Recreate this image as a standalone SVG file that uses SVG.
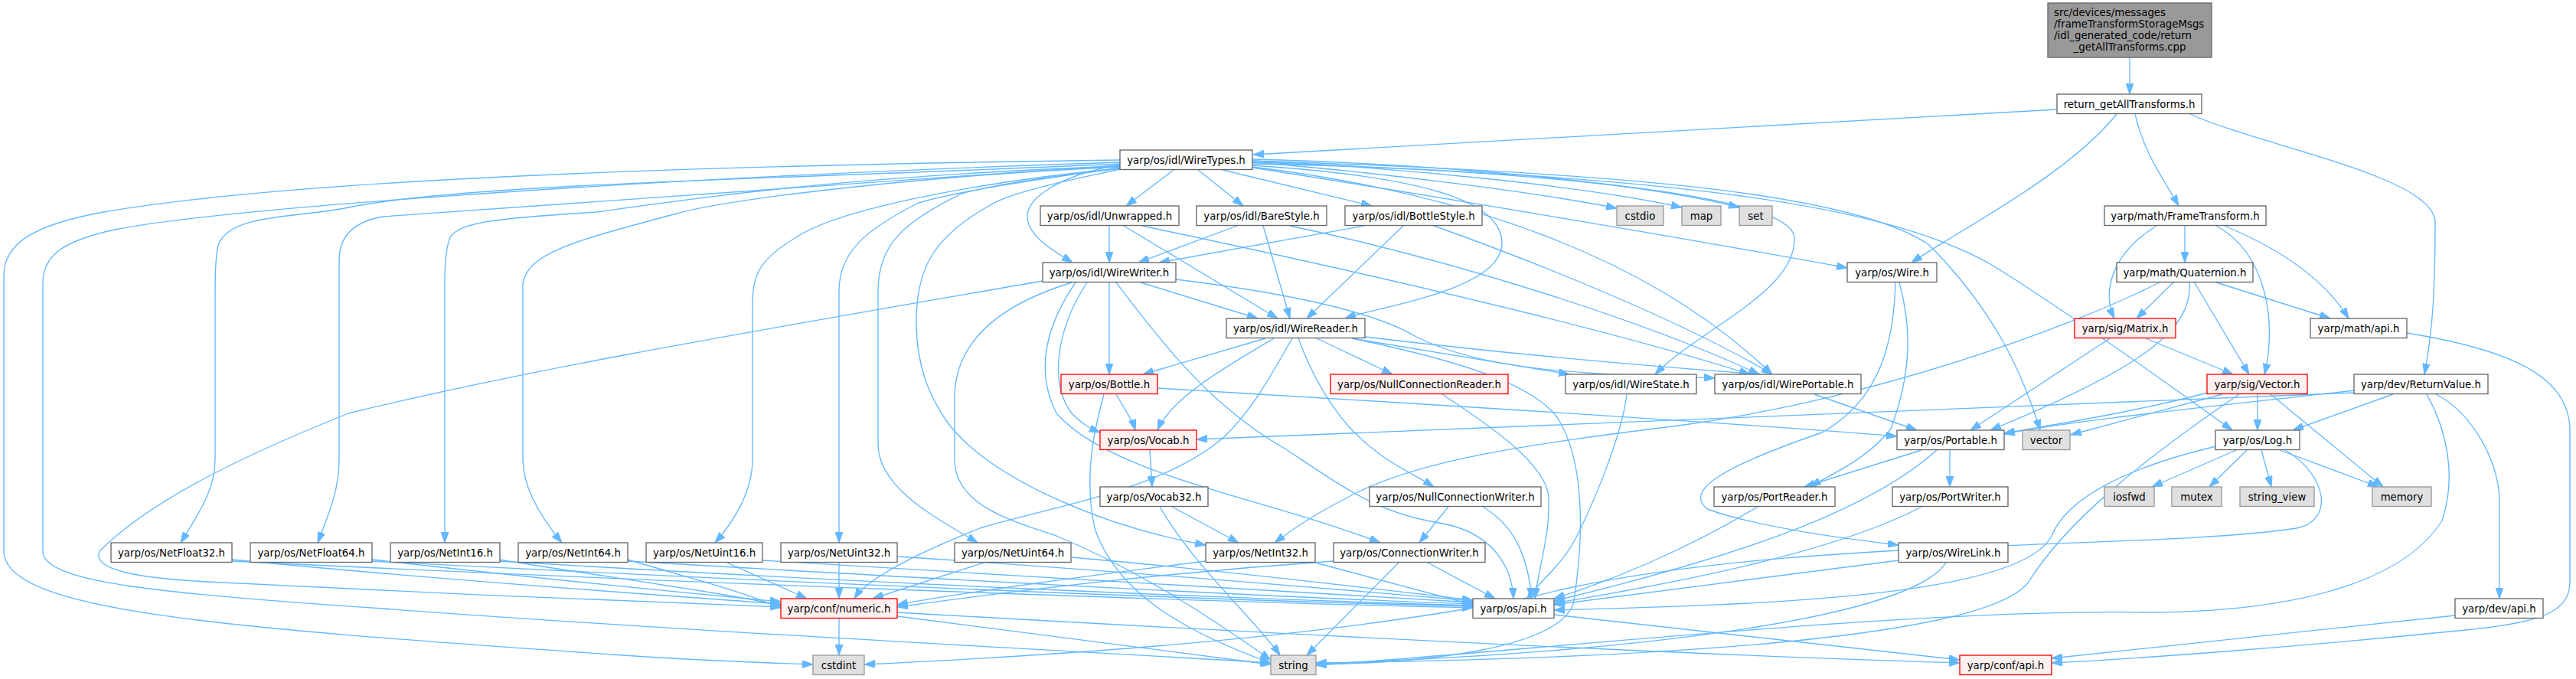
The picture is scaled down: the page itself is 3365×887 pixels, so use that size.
<svg xmlns="http://www.w3.org/2000/svg" width="3365" height="887" viewBox="0 0 3365 887">
<style>
.n rect{fill:#ffffff;stroke:#666666;stroke-width:1.33}
.g rect{fill:#e0e0e0;stroke:#999999;stroke-width:1.33}
.r rect{fill:#fff0f0;stroke:#ff0000;stroke-width:1.33}
.t rect{fill:#999999;stroke:#666666;stroke-width:1.33}
text{font-family:"DejaVu Sans","Liberation Sans",sans-serif;font-size:13.33px;fill:#000000;text-anchor:middle}
#edges path{fill:none;stroke:#63b8ff;stroke-width:1.33;marker-end:url(#ah)}
</style>
<defs>
<marker id="ah" markerUnits="userSpaceOnUse" markerWidth="14" markerHeight="10" viewBox="0 0 13 9" refX="13" refY="4.5" orient="auto">
<path d="M0,0 L13,4.5 L0,9 Z" fill="#63b8ff" stroke="#63b8ff"/>
</marker>
</defs>
<rect x="0" y="0" width="3365" height="887" fill="#ffffff"/>
<g id="edges">
<path d="M2782,75 L2782,123"/>
<path d="M2687,143 L1637,202"/>
<path d="M2765,149 C2700,230 2560,300 2497,343"/>
<path d="M2789,149 C2800,200 2830,240 2846,269"/>
<path d="M2861,149 C2950,190 3180,230 3181,290 C3181,380 3178,430 3167,489"/>
<path d="M1533,222 L1471,269"/>
<path d="M1565,222 L1624,269"/>
<path d="M1597,222 L1792,269"/>
<path d="M1636,212 C1800,225 2000,250 2112,272"/>
<path d="M1636,210 C1850,220 2080,245 2197,271"/>
<path d="M1636,208 C1900,215 2150,240 2272,271"/>
<path d="M1463,215 C1380,230 1340,260 1342,285 C1344,310 1380,330 1401,343"/>
<path d="M1636,216 C1850,230 1965,260 1962,320 C1958,380 1800,400 1757,416"/>
<path d="M1636,214 C1950,220 2340,250 2344,310 C2348,380 2220,430 2162,489"/>
<path d="M1636,218 C1900,250 2150,330 2315,489"/>
<path d="M1636,219 C1900,260 2250,320 2413,350"/>
<path d="M1636,210 C2100,225 2420,250 2520,320 C2600,400 2640,480 2665,562"/>
<path d="M1636,212 C2150,230 2450,260 2600,345 C2690,400 2830,500 2916,562"/>
<path d="M1463,209 C1000,215 400,230 130,278 C40,295 5,320 5,360 L5,720 C5,800 300,820 800,855 C900,862 1000,866 1062,868"/>
<path d="M1463,212 C900,230 300,270 150,300 C80,315 56,335 56,370 L56,720 C56,760 200,775 500,795 C900,825 1400,850 1660,866"/>
<path d="M1463,214 C1000,235 600,240 450,272 C380,285 300,280 285,320 C281,340 281,360 281,400 L281,600 C281,640 260,670 236,709"/>
<path d="M1463,216 C1100,240 700,270 500,283 C460,290 443,310 443,340 L443,600 C443,640 430,670 415,709"/>
<path d="M1463,217 C1100,230 900,260 780,277 C650,285 600,290 588,310 C582,325 581,345 581,370 L581,709"/>
<path d="M1463,218 C1200,230 950,260 880,280 C750,315 690,330 683,370 L683,600 C683,640 710,680 734,709"/>
<path d="M1463,220 C1300,235 1100,270 1040,310 C990,340 983,360 983,400 L983,600 C983,640 960,680 934,709"/>
<path d="M1463,219 C1350,235 1250,250 1200,265 C1130,300 1096,330 1096,380 L1096,709"/>
<path d="M1463,220 C1380,230 1300,240 1256,253 C1180,290 1147,320 1147,380 L1147,580 C1147,640 1230,680 1277,709"/>
<path d="M1463,221 C1400,235 1320,250 1290,270 C1220,310 1197,350 1197,420 C1197,480 1215,520 1240,555 C1300,630 1450,690 1575,712"/>
<path d="M1449,295 L1449,343"/>
<path d="M1468,295 L1669,416"/>
<path d="M1492,295 C1800,360 2100,430 2286,489"/>
<path d="M1616,295 L1487,343"/>
<path d="M1650,295 L1685,416"/>
<path d="M1685,295 C1900,340 2150,420 2298,489"/>
<path d="M1782,295 L1514,343"/>
<path d="M1833,295 L1707,416"/>
<path d="M1873,295 C2000,340 2200,420 2315,489"/>
<path d="M1449,369 L1449,489"/>
<path d="M1490,369 L1643,416"/>
<path d="M1536,365 C1700,385 1800,410 1850,440 C1950,490 2100,488 2240,494"/>
<path d="M1405,369 C1370,420 1350,480 1380,540 C1450,620 1650,650 1803,709"/>
<path d="M1420,369 C1380,430 1370,500 1400,540 C1415,555 1425,560 1437,565"/>
<path d="M1458,369 C1520,450 1580,530 1680,587 C1760,640 1800,670 1880,683 C1950,695 1975,740 1977,782"/>
<path d="M1400,369 C1300,400 1247,450 1247,520 L1247,600 C1247,660 1320,680 1380,700 C1500,750 1600,820 1660,862"/>
<path d="M1362,367 C1000,430 700,480 455,540 C330,590 200,650 130,720 C120,745 180,755 270,760 C500,772 800,785 1020,793"/>
<path d="M1653,442 L1493,489"/>
<path d="M1664,442 C1600,480 1530,520 1512,562"/>
<path d="M1688,442 C1660,490 1640,530 1600,570 C1520,640 1380,660 1280,690 C1180,730 1130,760 1116,782"/>
<path d="M1696,442 C1710,480 1730,520 1760,555 C1800,600 1840,615 1873,636"/>
<path d="M1720,442 L1819,489"/>
<path d="M1766,442 L2050,489"/>
<path d="M1783,440 C1950,460 2150,478 2300,489"/>
<path d="M1766,442 C1900,470 2000,500 2034,545 C2070,600 2070,700 2055,790 C2030,850 1850,866 1719,868"/>
<path d="M1458,515 C1466,530 1478,545 1483,562"/>
<path d="M1512,507 C1900,530 2300,555 2478,570"/>
<path d="M1442,515 C1430,560 1415,620 1430,690 C1460,780 1560,830 1660,866"/>
<path d="M1502,588 L1505,636"/>
<path d="M1531,662 L1618,709"/>
<path d="M1515,662 C1560,740 1640,810 1672,856"/>
<path d="M1575,733 C1400,755 1250,775 1172,790"/>
<path d="M1718,735 L1924,790"/>
<path d="M303,731 C600,760 900,780 1020,789"/>
<path d="M303,733 C900,762 1600,787 1924,794"/>
<path d="M486,731 C700,755 900,775 1020,786"/>
<path d="M486,733 C1000,760 1600,785 1924,792"/>
<path d="M652,731 C800,755 950,775 1020,791"/>
<path d="M652,733 C1100,760 1600,782 1924,791"/>
<path d="M820,731 C900,755 980,775 1020,795"/>
<path d="M820,733 C1200,755 1650,780 1924,789"/>
<path d="M950,735 L1054,782"/>
<path d="M996,732 C1300,750 1700,775 1924,787"/>
<path d="M1096,735 L1096,782"/>
<path d="M1172,727 C1450,745 1750,770 1924,785"/>
<path d="M1285,735 L1140,782"/>
<path d="M1399,728 C1600,745 1800,770 1924,784"/>
<path d="M1742,733 C1500,750 1300,775 1172,793"/>
<path d="M1865,735 L1953,782"/>
<path d="M1827,735 L1707,856"/>
<path d="M1892,662 L1854,709"/>
<path d="M1937,662 C1975,685 1995,720 2001,782"/>
<path d="M1884,515 C1920,540 2020,600 2023,650 C2025,700 2010,740 2005,782"/>
<path d="M2125,515 C2120,560 2090,640 2060,700 C2040,740 2010,760 1995,782"/>
<path d="M2370,515 L2504,562"/>
<path d="M2510,588 L2357,636"/>
<path d="M2547,588 L2547,636"/>
<path d="M2530,588 C2450,660 2300,720 2030,785"/>
<path d="M2296,662 C2200,720 2100,760 2030,782"/>
<path d="M2510,662 C2400,720 2200,760 2030,788"/>
<path d="M2480,732 C2300,755 2150,775 2030,790"/>
<path d="M2542,735 C2500,800 2200,850 1719,867"/>
<path d="M2481,369 C2495,420 2500,480 2470,560 C2440,600 2390,620 2365,636"/>
<path d="M2476,369 C2474,440 2460,520 2380,565 C2250,610 2200,640 2230,665 C2300,690 2420,705 2480,712"/>
<path d="M2817,295 C2760,330 2745,380 2762,416"/>
<path d="M2854,295 L2854,343"/>
<path d="M2895,295 C2960,330 2975,420 2958,489"/>
<path d="M2906,295 C2990,330 3040,370 3068,416"/>
<path d="M2840,368 L2791,416"/>
<path d="M2866,368 L2938,489"/>
<path d="M2892,368 L3044,416"/>
<path d="M2860,368 C2865,430 2800,480 2600,562"/>
<path d="M2823,368 C2700,430 2450,520 2200,555 C2000,580 1850,600 1760,650 C1720,670 1690,690 1665,709"/>
<path d="M2756,442 L2574,562"/>
<path d="M2803,442 L2917,489"/>
<path d="M3144,435 C3300,460 3355,500 3357,560 L3357,760 C3357,800 3320,815 3200,825 C3000,845 2800,860 2680,866"/>
<path d="M2884,513 C2780,540 2680,555 2618,566"/>
<path d="M2903,515 L2705,568"/>
<path d="M2949,515 L2949,562"/>
<path d="M2966,515 L3113,636"/>
<path d="M2925,515 C2800,600 2700,680 2650,760 C2600,830 2200,860 1719,866"/>
<path d="M2921,588 L2811,636"/>
<path d="M2935,588 L2886,636"/>
<path d="M2954,588 L2967,636"/>
<path d="M2978,588 L3107,636"/>
<path d="M2895,583 C2780,610 2700,650 2680,700 C2640,780 2300,790 2030,797"/>
<path d="M2985,588 C3040,620 3050,680 3000,690 C2800,720 2300,700 2000,780 C1700,840 1300,860 1129,868"/>
<path d="M3075,510 C2900,530 2700,550 2618,567"/>
<path d="M3075,513 C2700,530 2000,555 1563,574"/>
<path d="M3126,515 L2995,562"/>
<path d="M3170,515 C3195,560 3210,620 3190,680 C3140,760 3000,800 2800,800 C2500,795 2000,850 1719,869"/>
<path d="M3182,515 C3230,540 3262,600 3265,650 L3265,782"/>
<path d="M3207,804 L2680,860"/>
<path d="M2030,803 L2560,862"/>
<path d="M1096,808 L1096,856"/>
<path d="M1172,800 C1700,830 2200,855 2560,866"/>
<path d="M1172,805 L1660,868"/>
</g>
<g id="node-cpp" class="t"><rect x="2675" y="4" width="214" height="71"/><text x="2683" y="21" style="text-anchor:start">src/devices/messages</text><text x="2683" y="36" style="text-anchor:start">/frameTransformStorageMsgs</text><text x="2683" y="51" style="text-anchor:start">/idl_generated_code/return</text><text x="2782" y="66">_getAllTransforms.cpp</text></g>
<g id="node-rgat" class="n"><rect x="2687" y="123" width="189" height="25.5"/><text x="2781.5" y="140.5">return_getAllTransforms.h</text></g>
<g id="node-WireTypes" class="n"><rect x="1463" y="196" width="173" height="25.5"/><text x="1549.5" y="213.5">yarp/os/idl/WireTypes.h</text></g>
<g id="node-Unwrapped" class="n"><rect x="1359" y="269" width="181" height="25.5"/><text x="1449.5" y="286.5">yarp/os/idl/Unwrapped.h</text></g>
<g id="node-BareStyle" class="n"><rect x="1563" y="269" width="170" height="25.5"/><text x="1648" y="286.5">yarp/os/idl/BareStyle.h</text></g>
<g id="node-BottleStyle" class="n"><rect x="1757" y="269" width="179" height="25.5"/><text x="1846.5" y="286.5">yarp/os/idl/BottleStyle.h</text></g>
<g id="node-cstdio" class="g"><rect x="2112" y="269" width="61" height="25.5"/><text x="2142.5" y="286.5">cstdio</text></g>
<g id="node-map" class="g"><rect x="2197" y="269" width="51" height="25.5"/><text x="2222.5" y="286.5">map</text></g>
<g id="node-set" class="g"><rect x="2272" y="269" width="43" height="25.5"/><text x="2293.5" y="286.5">set</text></g>
<g id="node-FrameTransform" class="n"><rect x="2749" y="269" width="211" height="25.5"/><text x="2854.5" y="286.5">yarp/math/FrameTransform.h</text></g>
<g id="node-WireWriter" class="n"><rect x="1362" y="343" width="174" height="25.5"/><text x="1449" y="360.5">yarp/os/idl/WireWriter.h</text></g>
<g id="node-Wire" class="n"><rect x="2413" y="343" width="117" height="25.5"/><text x="2471.5" y="360.5">yarp/os/Wire.h</text></g>
<g id="node-Quaternion" class="n"><rect x="2765" y="343" width="178" height="25.5"/><text x="2854" y="360.5">yarp/math/Quaternion.h</text></g>
<g id="node-WireReader" class="n"><rect x="1602" y="416" width="181" height="25.5"/><text x="1692.5" y="433.5">yarp/os/idl/WireReader.h</text></g>
<g id="node-Matrix" class="r"><rect x="2710" y="416" width="132" height="25.5"/><text x="2776" y="433.5">yarp/sig/Matrix.h</text></g>
<g id="node-mathapi" class="n"><rect x="3018" y="416" width="126" height="25.5"/><text x="3081" y="433.5">yarp/math/api.h</text></g>
<g id="node-Bottle" class="r"><rect x="1386" y="489" width="126" height="25.5"/><text x="1449" y="506.5">yarp/os/Bottle.h</text></g>
<g id="node-NullConnectionReader" class="r"><rect x="1738" y="489" width="232" height="25.5"/><text x="1854" y="506.5">yarp/os/NullConnectionReader.h</text></g>
<g id="node-WireState" class="n"><rect x="2045" y="489" width="171" height="25.5"/><text x="2130.5" y="506.5">yarp/os/idl/WireState.h</text></g>
<g id="node-WirePortable" class="n"><rect x="2240" y="489" width="191" height="25.5"/><text x="2335.5" y="506.5">yarp/os/idl/WirePortable.h</text></g>
<g id="node-Vector" class="r"><rect x="2883" y="489" width="131" height="25.5"/><text x="2948.5" y="506.5">yarp/sig/Vector.h</text></g>
<g id="node-ReturnValue" class="n"><rect x="3075" y="489" width="175" height="25.5"/><text x="3162.5" y="506.5">yarp/dev/ReturnValue.h</text></g>
<g id="node-Vocab" class="r"><rect x="1437" y="562" width="126" height="25.5"/><text x="1500" y="579.5">yarp/os/Vocab.h</text></g>
<g id="node-Portable" class="n"><rect x="2478" y="562" width="140" height="25.5"/><text x="2548" y="579.5">yarp/os/Portable.h</text></g>
<g id="node-vector" class="g"><rect x="2642" y="562" width="62" height="25.5"/><text x="2673" y="579.5">vector</text></g>
<g id="node-Log" class="n"><rect x="2894" y="562" width="110" height="25.5"/><text x="2949" y="579.5">yarp/os/Log.h</text></g>
<g id="node-Vocab32" class="n"><rect x="1437" y="636" width="141" height="25.5"/><text x="1507.5" y="653.5">yarp/os/Vocab32.h</text></g>
<g id="node-NullConnectionWriter" class="n"><rect x="1789" y="636" width="224" height="25.5"/><text x="1901" y="653.5">yarp/os/NullConnectionWriter.h</text></g>
<g id="node-PortReader" class="n"><rect x="2239" y="636" width="158" height="25.5"/><text x="2318" y="653.5">yarp/os/PortReader.h</text></g>
<g id="node-PortWriter" class="n"><rect x="2472" y="636" width="151" height="25.5"/><text x="2547.5" y="653.5">yarp/os/PortWriter.h</text></g>
<g id="node-iosfwd" class="g"><rect x="2749" y="636" width="65" height="25.5"/><text x="2781.5" y="653.5">iosfwd</text></g>
<g id="node-mutex" class="g"><rect x="2837" y="636" width="65" height="25.5"/><text x="2869.5" y="653.5">mutex</text></g>
<g id="node-string_view" class="g"><rect x="2926" y="636" width="97" height="25.5"/><text x="2974.5" y="653.5">string_view</text></g>
<g id="node-memory" class="g"><rect x="3099" y="636" width="77" height="25.5"/><text x="3137.5" y="653.5">memory</text></g>
<g id="node-NetFloat32" class="n"><rect x="145" y="709" width="158" height="25.5"/><text x="224" y="726.5">yarp/os/NetFloat32.h</text></g>
<g id="node-NetFloat64" class="n"><rect x="327" y="709" width="159" height="25.5"/><text x="406.5" y="726.5">yarp/os/NetFloat64.h</text></g>
<g id="node-NetInt16" class="n"><rect x="510" y="709" width="143" height="25.5"/><text x="581.5" y="726.5">yarp/os/NetInt16.h</text></g>
<g id="node-NetInt64" class="n"><rect x="677" y="709" width="143" height="25.5"/><text x="748.5" y="726.5">yarp/os/NetInt64.h</text></g>
<g id="node-NetUint16" class="n"><rect x="844" y="709" width="152" height="25.5"/><text x="920" y="726.5">yarp/os/NetUint16.h</text></g>
<g id="node-NetUint32" class="n"><rect x="1020" y="709" width="152" height="25.5"/><text x="1096" y="726.5">yarp/os/NetUint32.h</text></g>
<g id="node-NetUint64" class="n"><rect x="1247" y="709" width="152" height="25.5"/><text x="1323" y="726.5">yarp/os/NetUint64.h</text></g>
<g id="node-NetInt32" class="n"><rect x="1575" y="709" width="143" height="25.5"/><text x="1646.5" y="726.5">yarp/os/NetInt32.h</text></g>
<g id="node-ConnectionWriter" class="n"><rect x="1742" y="709" width="198" height="25.5"/><text x="1841" y="726.5">yarp/os/ConnectionWriter.h</text></g>
<g id="node-WireLink" class="n"><rect x="2480" y="709" width="143" height="25.5"/><text x="2551.5" y="726.5">yarp/os/WireLink.h</text></g>
<g id="node-numeric" class="r"><rect x="1020" y="782" width="152" height="25.5"/><text x="1096" y="799.5">yarp/conf/numeric.h</text></g>
<g id="node-osapi" class="n"><rect x="1924" y="782" width="106" height="25.5"/><text x="1977" y="799.5">yarp/os/api.h</text></g>
<g id="node-devapi" class="n"><rect x="3207" y="782" width="115" height="25.5"/><text x="3264.5" y="799.5">yarp/dev/api.h</text></g>
<g id="node-cstdint" class="g"><rect x="1062" y="856" width="67" height="25.5"/><text x="1095.5" y="873.5">cstdint</text></g>
<g id="node-string" class="g"><rect x="1660" y="856" width="59" height="25.5"/><text x="1689.5" y="873.5">string</text></g>
<g id="node-confapi" class="r"><rect x="2560" y="856" width="120" height="25.5"/><text x="2620" y="873.5">yarp/conf/api.h</text></g>
</svg>
